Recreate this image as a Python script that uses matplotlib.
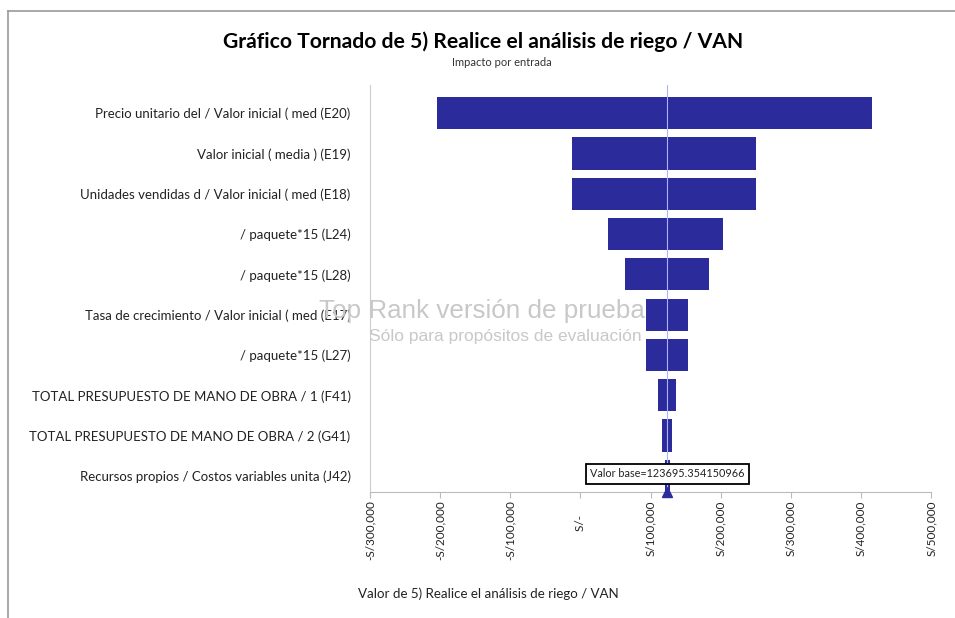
import matplotlib
matplotlib.use("Agg")
import matplotlib.pyplot as plt
from matplotlib.lines import Line2D
from matplotlib.ticker import FuncFormatter

# data
inputs = [
    "Precio unitario del / Valor inicial ( med (E20)",
    "Valor inicial ( media ) (E19)",
    "Unidades vendidas d / Valor inicial ( med (E18)",
    "/ paquete*15 (L24)",
    "/ paquete*15 (L28)",
    "Tasa de crecimiento / Valor inicial ( med (E17)",
    "/ paquete*15 (L27)",
    "TOTAL PRESUPUESTO DE MANO DE OBRA / 1 (F41)",
    "TOTAL PRESUPUESTO DE MANO DE OBRA / 2 (G41)",
    "Recursos propios / Costos variables unita (J42)",
]
low_values = [-205000, -12000, -12000, 40000, 63000, 94000, 94000, 111000, 117000, 120000]
high_values = [415000, 251000, 251000, 203000, 184000, 154000, 153000, 137000, 131000, 128000]
base_value = 123695.354150966
x_ticks = [-300000, -200000, -100000, 0, 100000, 200000, 300000, 400000, 500000]

BAR = "#2b2b9b"
FONT = "Lato"


def money(v, pos=None):
    if v == 0:
        return "S/-     "
    s = "S/{:,.0f}".format(abs(v))
    return "-" + s if v < 0 else s


def main():
    fig = plt.figure(figsize=(9.55, 6.18), dpi=100)
    ax = fig.add_axes([0.3874, 0.2039, 0.5876, 0.6586])

    rows = list(range(len(inputs)))
    widths = [h - l for l, h in zip(low_values, high_values)]
    ax.barh(rows, widths, left=low_values, height=0.8, color=BAR, zorder=2)

    ax.set_ylim(9.4, -0.7)
    ax.set_xlim(x_ticks[0], x_ticks[-1])
    ax.set_yticks(rows)
    ax.set_yticklabels(inputs, fontsize=9.5, family=FONT, color="#222222")
    ax.set_xticks(x_ticks)
    ax.xaxis.set_major_formatter(FuncFormatter(money))
    for lab in ax.get_xticklabels():
        lab.set_rotation(90)
        lab.set_fontsize(8.5)
        lab.set_family(FONT)
        lab.set_color("#222222")
    ax.tick_params(axis="y", length=0, pad=14)
    ax.tick_params(axis="x", length=4, color="#bbbbbb", direction="out", pad=2)

    for side in ["top", "right"]:
        ax.spines[side].set_visible(False)
    ax.spines["left"].set_color("#cccccc")
    ax.spines["bottom"].set_color("#bbbbbb")

    # base value line, marker and label
    ax.axvline(base_value, color="#a8b4ff", lw=0.8, zorder=3)
    ax.plot([base_value], [9.4], marker="^", color=BAR, markersize=7,
            clip_on=False, zorder=4)
    ax.text(base_value, 8.95, "Valor base=123695.354150966", fontsize=7.8,
            family=FONT, ha="center", va="center", zorder=5, color="#222222",
            bbox=dict(boxstyle="square,pad=0.4", fc="white", ec="black", lw=1.3))

    # evaluation watermark
    fig.text(0.505, 0.497, "Top Rank versión de prueba", fontsize=18.7,
             family="Liberation Sans", color="#c8c8c8", ha="center", va="center",
             zorder=10)
    fig.text(0.529, 0.456, "Sólo para propósitos de evaluación", fontsize=12.5,
             family="Liberation Sans", color="#c8c8c8", ha="center", va="center",
             zorder=10)

    fig.text(0.506, 0.932, "Gráfico Tornado de 5) Realice el análisis de riego / VAN",
             fontsize=15.2, fontweight="bold", family=FONT, ha="center", va="center")
    fig.text(0.526, 0.899, "Impacto por entrada", fontsize=8, family=FONT,
             ha="center", va="center", color="#333333")
    fig.text(0.511, 0.040, "Valor de 5) Realice el análisis de riego / VAN",
             fontsize=9.6, family=FONT, ha="center", va="center", color="#222222")

    # chart frame edges visible in the screenshot
    fig.add_artist(Line2D([0.0085, 0.0085], [0.0, 0.982], color="#999999", lw=1.2))
    fig.add_artist(Line2D([0.0085, 1.0], [0.982, 0.982], color="#999999", lw=1.2))

    fig.savefig("out.png", dpi=100)


if __name__ == "__main__":
    main()
